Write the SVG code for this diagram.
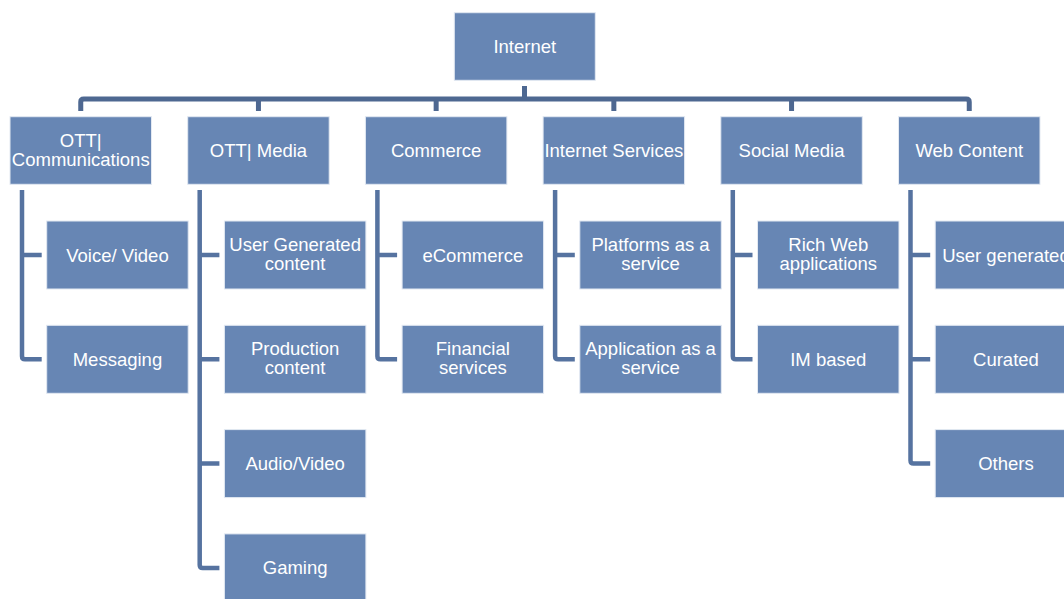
<svg xmlns="http://www.w3.org/2000/svg" width="1064" height="599" viewBox="0 0 1064 599">
<style>
.box{fill:#6786B4;stroke:#E3E9F2;stroke-width:1}
.t{fill:#FFFFFF;font-family:"Liberation Sans",Arial,sans-serif;font-size:18.5px;text-anchor:middle}
.top{fill:none;stroke:#4E6891;stroke-width:5;stroke-linejoin:round}
.br{fill:none;stroke:#5673A0;stroke-width:4.5;stroke-linejoin:round}
</style>
<rect width="1064" height="599" fill="#FFFFFF"/>
<g id="connectors">
<path class="top" d="M524.5 86V99M80.75 111V102Q80.75 99 83.75 99H966.25Q969.25 99 969.25 102V111M258.45 99V111M436.15 99V111M613.85 99V111M791.55 99V111"/>
<path class="br" d="M22 190V356.3Q22 359.3 25 359.3H41.7M22 255H41.7"/>
<path class="br" d="M199.7 190V565Q199.7 568 202.7 568H219.4M199.7 255H219.4M199.7 359.3H219.4M199.7 463.6H219.4"/>
<path class="br" d="M377.4 190V356.3Q377.4 359.3 380.4 359.3H397.1M377.4 255H397.1"/>
<path class="br" d="M555.1 190V356.3Q555.1 359.3 558.1 359.3H574.8M555.1 255H574.8"/>
<path class="br" d="M732.8 190V356.3Q732.8 359.3 735.8 359.3H752.5M732.8 255H752.5"/>
<path class="br" d="M910.5 190V460.6Q910.5 463.6 913.5 463.6H930.2M910.5 255H930.2M910.5 359.3H930.2"/>
</g>
<g id="internet"><rect class="box" x="454.3" y="12.7" width="141" height="67.6"/><text class="t" x="524.8" y="53.2">Internet</text></g>
<g id="ott-comm"><rect class="box" x="10" y="116.7" width="141.5" height="67.6"/><text class="t" x="80.75" y="147.2">OTT|</text><text class="t" x="80.75" y="166.2">Communications</text></g>
<g id="ott-media"><rect class="box" x="187.7" y="116.7" width="141.5" height="67.6"/><text class="t" x="258.45" y="157">OTT| Media</text></g>
<g id="commerce"><rect class="box" x="365.4" y="116.7" width="141.5" height="67.6"/><text class="t" x="436.15" y="157">Commerce</text></g>
<g id="internet-services"><rect class="box" x="543.1" y="116.7" width="141.5" height="67.6"/><text class="t" x="613.85" y="157">Internet Services</text></g>
<g id="social-media"><rect class="box" x="720.8" y="116.7" width="141.5" height="67.6"/><text class="t" x="791.55" y="157">Social Media</text></g>
<g id="web-content"><rect class="box" x="898.5" y="116.7" width="141.5" height="67.6"/><text class="t" x="969.25" y="157">Web Content</text></g>

<g id="voice-video"><rect class="box" x="46.7" y="221" width="141.5" height="68"/><text class="t" x="117.45" y="261.5">Voice/ Video</text></g>
<g id="messaging"><rect class="box" x="46.7" y="325.3" width="141.5" height="68"/><text class="t" x="117.45" y="365.8">Messaging</text></g>

<g id="user-generated-content"><rect class="box" x="224.4" y="221" width="141.5" height="68"/><text class="t" x="295.15" y="251">User Generated</text><text class="t" x="295.15" y="270">content</text></g>
<g id="production-content"><rect class="box" x="224.4" y="325.3" width="141.5" height="68"/><text class="t" x="295.15" y="355.3">Production</text><text class="t" x="295.15" y="374.3">content</text></g>
<g id="audio-video"><rect class="box" x="224.4" y="429.6" width="141.5" height="68"/><text class="t" x="295.15" y="470.1">Audio/Video</text></g>
<g id="gaming"><rect class="box" x="224.4" y="533.9" width="141.5" height="68"/><text class="t" x="295.15" y="574.4">Gaming</text></g>

<g id="ecommerce"><rect class="box" x="402.1" y="221" width="141.5" height="68"/><text class="t" x="472.85" y="261.5">eCommerce</text></g>
<g id="financial-services"><rect class="box" x="402.1" y="325.3" width="141.5" height="68"/><text class="t" x="472.85" y="355.3">Financial</text><text class="t" x="472.85" y="374.3">services</text></g>

<g id="platforms"><rect class="box" x="579.8" y="221" width="141.5" height="68"/><text class="t" x="650.55" y="251">Platforms as a</text><text class="t" x="650.55" y="270">service</text></g>
<g id="application"><rect class="box" x="579.8" y="325.3" width="141.5" height="68"/><text class="t" x="650.55" y="355.3">Application as a</text><text class="t" x="650.55" y="374.3">service</text></g>

<g id="rich-web"><rect class="box" x="757.5" y="221" width="141.5" height="68"/><text class="t" x="828.25" y="251">Rich Web</text><text class="t" x="828.25" y="270">applications</text></g>
<g id="im-based"><rect class="box" x="757.5" y="325.3" width="141.5" height="68"/><text class="t" x="828.25" y="365.8">IM based</text></g>

<g id="user-generated"><rect class="box" x="935.2" y="221" width="141.5" height="68"/><text class="t" x="1005.95" y="261.5">User generated</text></g>
<g id="curated"><rect class="box" x="935.2" y="325.3" width="141.5" height="68"/><text class="t" x="1005.95" y="365.8">Curated</text></g>
<g id="others"><rect class="box" x="935.2" y="429.6" width="141.5" height="68"/><text class="t" x="1005.95" y="470.1">Others</text></g>
</svg>
